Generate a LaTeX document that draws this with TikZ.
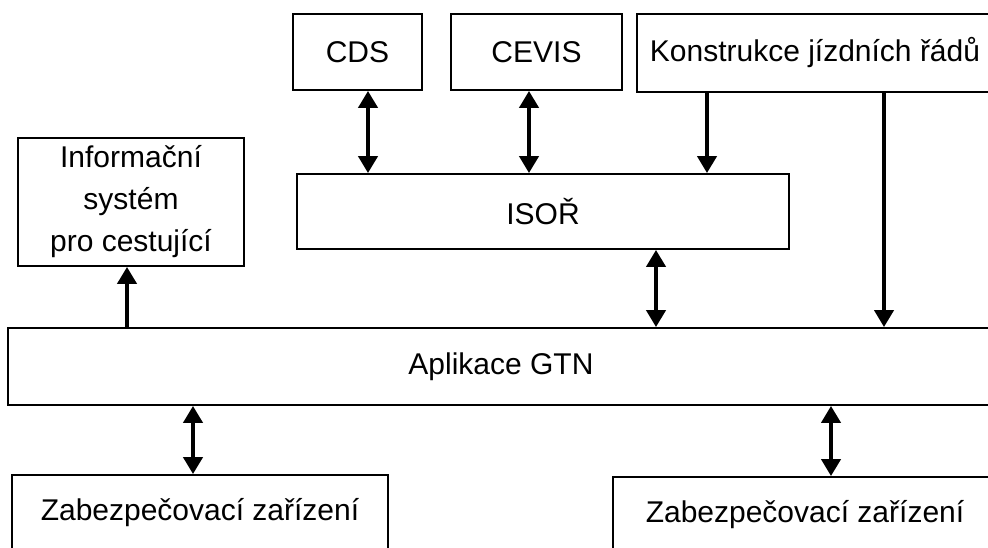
\documentclass[tikz,border=0pt]{standalone}
\usepackage{fontspec}
\setmainfont{Liberation Sans}
\usetikzlibrary{arrows.meta}
\tikzset{
  box/.style={draw=black, line width=1.8pt, rectangle, inner sep=0pt,
    align=center, font=\fontsize{30}{42}\selectfont},
  tip/.tip={Triangle[width=19pt,length=17pt]},
  link/.style={line width=4pt, -tip},
  dlink/.style={line width=4pt, tip-tip}
}
\begin{document}
\begin{tikzpicture}[x=1pt,y=-1pt]
  \useasboundingbox (0,0) rectangle (988,548);
  \clip (0,0) rectangle (988,548);
  \fill[white] (0,0) rectangle (988,548);

  % upper systems
  \node[box, minimum width=129pt, minimum height=76pt] (cds) at (357.5,52) {CDS};
  \node[box, minimum width=171pt, minimum height=76pt] (cevis) at (536.5,52) {CEVIS};
  \node[box, minimum width=356pt, minimum height=78pt] (kjr) at (815,53) {Konstrukce jízdních řádů};

  % ISOŘ and passenger info
  \node[box, minimum width=492pt, minimum height=75pt] (isor) at (543,211.5) {ISOŘ};
  \node[box, minimum width=226pt, minimum height=128pt] (info) at (131,202)
    {Informační\\systém\\pro cestující};

  % central application
  \node[box, minimum width=986pt, minimum height=77pt] (gtn) at (501,366.5) {Aplikace GTN};

  % interlocking equipment
  \node[box, minimum width=376pt, minimum height=75pt] (zab1) at (200,512.5) {Zabezpečovací zařízení};
  \node[box, minimum width=384pt, minimum height=75pt] (zab2) at (805,514.5) {Zabezpečovací zařízení};

  % connector columns
  \coordinate (xa) at (368,0);
  \coordinate (xb) at (529,0);
  \coordinate (xc) at (707,0);
  \coordinate (xd) at (884,0);
  \coordinate (xe) at (656,0);
  \coordinate (xf) at (127,0);
  \coordinate (xg) at (193,0);
  \coordinate (xh) at (831,0);

  \draw[dlink] (cds.south -| xa) -- (isor.north -| xa);
  \draw[dlink] (cevis.south -| xb) -- (isor.north -| xb);
  \draw[link] (kjr.south -| xc) -- (isor.north -| xc);
  \draw[link] (kjr.south -| xd) -- (gtn.north -| xd);
  \draw[dlink] (isor.south -| xe) -- (gtn.north -| xe);
  \draw[link] (gtn.north -| xf) -- (info.south -| xf);
  \draw[dlink] (gtn.south -| xg) -- (zab1.north -| xg);
  \draw[dlink] (gtn.south -| xh) -- (zab2.north -| xh);
\end{tikzpicture}
\end{document}
